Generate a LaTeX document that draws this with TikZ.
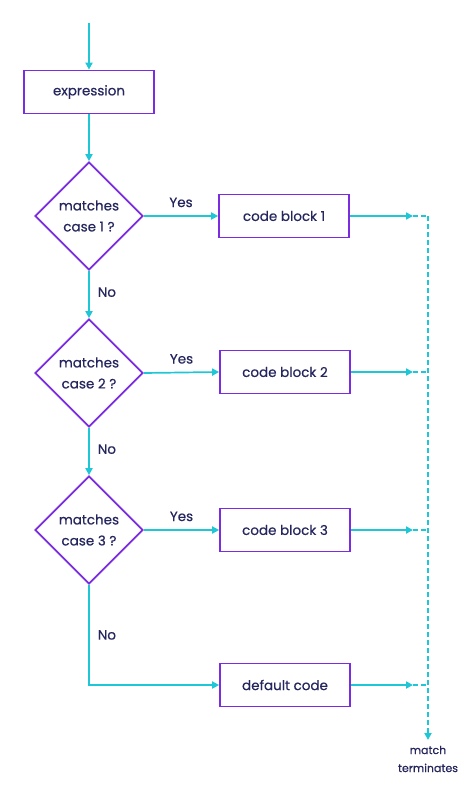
\documentclass[tikz,border=0pt]{standalone}
\usepackage{fontspec}
\setmainfont{Poppins}[FakeBold=0.5]
\usetikzlibrary{shapes.geometric,arrows.meta}
\definecolor{boxpurple}{HTML}{7B2BE0}
\definecolor{flowcyan}{HTML}{1EC6D6}
\definecolor{txt}{HTML}{25265E}
\begin{document}
\begin{tikzpicture}[x=1pt,y=-1pt,
  font=\fontsize{13.5}{21}\selectfont, text=txt,
  procbox/.style={draw=boxpurple, line width=1.7pt, minimum width=130pt, minimum height=43pt, inner sep=0pt},
  decision/.style={draw=boxpurple, line width=1.7pt, shape=diamond, aspect=1, minimum size=108pt, inner sep=0pt, align=center},
  flow/.style={draw=flowcyan, line width=1.7pt, -{Triangle[length=7pt,width=7pt]}},
  dflow/.style={draw=flowcyan, line width=1.7pt, dash pattern=on 5pt off 3pt},
  lbl/.style={inner sep=0pt}]
\useasboundingbox (0,0) rectangle (474,800);
\coordinate (start) at (89,23);
\node[procbox] (expr) at (89,92) {expression};
\node[decision] (d1) at (89,216) {matches\\case 1 ?};
\node[decision] (d2) at (89,373) {matches\\case 2 ?};
\node[decision] (d3) at (89,530) {matches\\case 3 ?};
\node[procbox] (c1) at (284,216) {code block 1};
\node[procbox] (c2) at (285,372) {code block 2};
\node[procbox] (c3) at (285,530) {code block 3};
\node[procbox] (dc) at (285,685) {default code};
\coordinate (corner) at (89,685);
\coordinate (t1) at (413,216);
\coordinate (t2) at (413,372);
\coordinate (t3) at (413,530);
\coordinate (t4) at (413,685);
\coordinate (j1) at (428,216);
\coordinate (j2) at (428,372);
\coordinate (j3) at (428,530);
\coordinate (j4) at (428,685);
\coordinate (endp) at (428,740);
\node[lbl, align=center, font=\fontsize{11}{18}\selectfont] (mt) at (428,759) {match\\terminates};

\draw[flow] (start) -- (expr.north);
\draw[flow] (expr.south) -- (d1.north);
\draw[flow] (d1.south) -- node[lbl, right=8pt, pos=0.45] {No} (d2.north);
\draw[flow] (d2.south) -- node[lbl, right=8pt, pos=0.45] {No} (d3.north);
\draw[flow] (d3.south) -- node[lbl, right=8pt, pos=0.5] {No} (corner) -- (dc.west);
\draw[flow] (d1.east) -- node[lbl, above=8pt, pos=0.5] {Yes} (c1.west);
\draw[flow] (d2.east) -- node[lbl, above=8pt, pos=0.5] {Yes} (c2.west);
\draw[flow] (d3.east) -- node[lbl, above=8pt, pos=0.5] {Yes} (c3.west);
\draw[flow] (c1.east) -- (t1);
\draw[flow] (c2.east) -- (t2);
\draw[flow] (c3.east) -- (t3);
\draw[flow] (dc.east) -- (t4);
\draw[dflow] (t1) -- (j1);
\draw[dflow] (t2) -- (j2);
\draw[dflow] (t3) -- (j3);
\draw[dflow] (t4) -- (j4);
\draw[dflow, -{Triangle[length=7pt,width=7pt]}] (j1) -- (endp);
\end{tikzpicture}
\end{document}
